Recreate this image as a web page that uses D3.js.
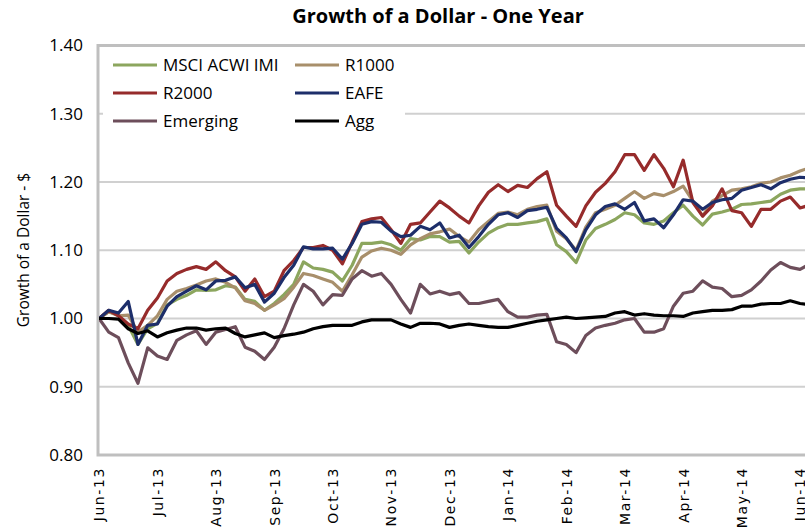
<!DOCTYPE html>
<html><head><meta charset="utf-8">
<script src="https://cdn.jsdelivr.net/npm/d3@7"></script>
<style>
html,body{margin:0;padding:0;background:#fff;}
svg{display:block;}
</style></head>
<body>
<svg id="chart" width="805" height="532"></svg>
<script>
const monthLabels = ["Jun-13","Jul-13","Aug-13","Sep-13","Oct-13","Nov-13","Dec-13","Jan-14","Feb-14","Mar-14","Apr-14","May-14","Jun-14"];
const yTicks = [0.80,0.90,1.00,1.10,1.20,1.30,1.40];
const seriesNames = ["MSCI ACWI IMI","R1000","R2000","EAFE","Emerging","Agg"];

const msci = [1.000,1.010,1.005,0.990,0.962,0.985,0.993,1.020,1.028,1.034,1.042,1.041,1.042,1.048,1.046,1.028,1.025,1.012,1.022,1.035,1.050,1.083,1.074,1.072,1.068,1.055,1.078,1.110,1.110,1.112,1.108,1.100,1.117,1.115,1.120,1.120,1.112,1.113,1.096,1.112,1.125,1.133,1.138,1.138,1.140,1.142,1.146,1.108,1.098,1.082,1.115,1.132,1.138,1.145,1.155,1.152,1.140,1.138,1.143,1.155,1.166,1.150,1.137,1.153,1.156,1.160,1.167,1.168,1.170,1.172,1.182,1.188,1.190,1.190];
const r1000 = [1.000,1.010,1.004,1.005,0.980,0.990,1.004,1.028,1.040,1.044,1.049,1.055,1.058,1.053,1.045,1.026,1.022,1.012,1.020,1.029,1.046,1.066,1.063,1.058,1.053,1.040,1.064,1.090,1.099,1.103,1.100,1.094,1.108,1.117,1.124,1.127,1.131,1.120,1.112,1.130,1.142,1.154,1.156,1.152,1.160,1.164,1.166,1.128,1.117,1.100,1.134,1.155,1.160,1.166,1.176,1.186,1.176,1.183,1.180,1.186,1.194,1.172,1.150,1.172,1.180,1.188,1.190,1.193,1.198,1.200,1.206,1.210,1.216,1.221];
const r2000 = [1.000,1.012,1.004,0.992,0.985,1.012,1.030,1.055,1.066,1.072,1.076,1.072,1.083,1.070,1.061,1.040,1.058,1.032,1.040,1.070,1.085,1.104,1.104,1.107,1.100,1.080,1.112,1.142,1.146,1.148,1.130,1.110,1.138,1.140,1.156,1.172,1.162,1.150,1.140,1.165,1.185,1.196,1.186,1.195,1.192,1.205,1.215,1.166,1.150,1.135,1.165,1.185,1.198,1.215,1.240,1.240,1.217,1.240,1.220,1.193,1.232,1.170,1.150,1.165,1.190,1.158,1.155,1.135,1.160,1.160,1.172,1.178,1.162,1.166];
const eafe = [1.000,1.012,1.008,1.025,0.962,0.990,0.992,1.018,1.032,1.040,1.048,1.042,1.055,1.056,1.061,1.045,1.050,1.024,1.037,1.060,1.078,1.105,1.102,1.102,1.103,1.087,1.110,1.138,1.142,1.141,1.128,1.120,1.122,1.135,1.130,1.140,1.118,1.122,1.104,1.120,1.138,1.152,1.155,1.148,1.158,1.160,1.163,1.132,1.118,1.098,1.130,1.152,1.164,1.168,1.160,1.170,1.143,1.146,1.133,1.152,1.174,1.172,1.160,1.170,1.174,1.176,1.188,1.192,1.196,1.190,1.199,1.204,1.207,1.206];
const emerging = [1.000,0.980,0.972,0.935,0.905,0.957,0.945,0.940,0.968,0.976,0.982,0.962,0.980,0.984,0.988,0.958,0.952,0.940,0.958,0.985,1.020,1.050,1.040,1.020,1.035,1.034,1.058,1.070,1.062,1.066,1.050,1.028,1.008,1.050,1.036,1.040,1.035,1.038,1.022,1.022,1.025,1.028,1.010,1.002,1.002,1.005,1.006,0.966,0.962,0.950,0.975,0.986,0.990,0.993,0.998,1.000,0.980,0.980,0.985,1.018,1.037,1.040,1.055,1.046,1.044,1.032,1.034,1.042,1.055,1.071,1.082,1.075,1.072,1.080];
const agg = [1.000,1.000,0.999,0.985,0.978,0.982,0.973,0.979,0.983,0.986,0.986,0.983,0.985,0.986,0.978,0.973,0.976,0.979,0.972,0.975,0.977,0.980,0.985,0.988,0.990,0.990,0.990,0.995,0.998,0.998,0.998,0.992,0.987,0.993,0.993,0.992,0.987,0.990,0.992,0.990,0.988,0.987,0.987,0.990,0.993,0.996,0.998,1.000,1.002,1.000,1.001,1.002,1.003,1.008,1.010,1.005,1.007,1.005,1.004,1.004,1.003,1.008,1.010,1.012,1.012,1.013,1.018,1.018,1.021,1.022,1.022,1.026,1.022,1.020];

const seriesColors = ["#8CA65E","#A88F6B","#962B2B","#1D2E6A","#6D4E5B","#000000"];
const seriesData = [msci, r1000, r2000, eafe, emerging, agg];

const svg = d3.select("#chart");
const pLeft = 99, pRight = 800, pTop = 45.5, pBottom = 455;

const x = d3.scaleLinear().domain([0, 12]).range([pLeft, pRight]);
const y = d3.scaleLinear().domain([0.80, 1.40]).range([pBottom, pTop]);

// title
svg.append("text").attr("x", 438).attr("y", 23).attr("text-anchor", "middle")
  .attr("font-family", "'Liberation Sans Narrow','Open Sans',sans-serif").attr("font-weight", "bold")
  .attr("font-size", 20).attr("fill", "#000").text("Growth of a Dollar - One Year");

// gridlines
svg.append("g").selectAll("line").data(yTicks.slice(1, -1)).join("line")
  .attr("x1", pLeft).attr("x2", 805).attr("y1", d => y(d)).attr("y2", d => y(d))
  .attr("stroke", "#D0D0D0").attr("stroke-width", 2);

// plot border
svg.append("path")
  .attr("d", `M810,${pTop} H${pLeft - 1} V${pBottom} H810`)
  .attr("fill", "none").attr("stroke", "#BFBFBF").attr("stroke-width", 3);

// y axis labels
const yAxis = d3.axisLeft(y).tickValues(yTicks).tickFormat(d3.format(".2f")).tickSize(0).tickPadding(16);
const yg = svg.append("g").attr("transform", `translate(${pLeft},0)`).call(yAxis);
yg.select(".domain").remove();
yg.selectAll("text").attr("font-family", "'Liberation Sans Narrow','Open Sans',sans-serif")
  .attr("font-size", 17).attr("fill", "#000");

// x axis labels
const xAxis = d3.axisBottom(x).tickValues(d3.range(monthLabels.length)).tickFormat(i => monthLabels[i]).tickSize(0);
const xg = svg.append("g").attr("transform", `translate(0,${pBottom})`).call(xAxis);
xg.select(".domain").remove();
xg.selectAll("text")
  .attr("font-family", "'DejaVu Sans',sans-serif").attr("font-size", 14).attr("fill", "#000")
  .attr("letter-spacing", 1.6)
  .attr("text-anchor", "end").attr("transform", "rotate(-90)")
  .attr("x", -12).attr("y", 0).attr("dy", "0.35em");

// y axis title
svg.append("text").attr("transform", "translate(29,250) rotate(-90)").attr("text-anchor", "middle")
  .attr("font-family", "'Open Sans',sans-serif").attr("font-size", 15.5).attr("fill", "#000")
  .text("Growth of a Dollar - $");

// lines
const line = d3.line().x((d, i) => x(i / 6)).y(d => y(d));
svg.append("defs").append("clipPath").attr("id", "clip").append("rect")
  .attr("x", pLeft).attr("y", pTop).attr("width", 805 - pLeft).attr("height", pBottom - pTop);
const lg = svg.append("g").attr("clip-path", "url(#clip)");
seriesData.forEach((s, k) => {
  lg.append("path").datum(s).attr("d", line).attr("fill", "none")
    .attr("stroke", seriesColors[k]).attr("stroke-width", 3.2)
    .attr("stroke-linejoin", "round").attr("stroke-linecap", "round");
});

// legend
const legend = svg.append("g");
legend.append("rect").attr("x", 103).attr("y", 50).attr("width", 302).attr("height", 88).attr("fill", "#fff");
const cols = [113, 295], rows = [65, 93, 121];
seriesNames.forEach((n, k) => {
  const cx = cols[k % 2], cy = rows[Math.floor(k / 2)];
  legend.append("line").attr("x1", cx).attr("x2", cx + 44).attr("y1", cy).attr("y2", cy)
    .attr("stroke", seriesColors[k]).attr("stroke-width", 3);
  legend.append("text").attr("x", cx + 50).attr("y", cy).attr("dy", "0.35em")
    .attr("font-family", "'Liberation Sans Narrow','Open Sans',sans-serif").attr("font-size", 17)
    .attr("fill", "#000").text(n);
});
</script>
</body></html>
